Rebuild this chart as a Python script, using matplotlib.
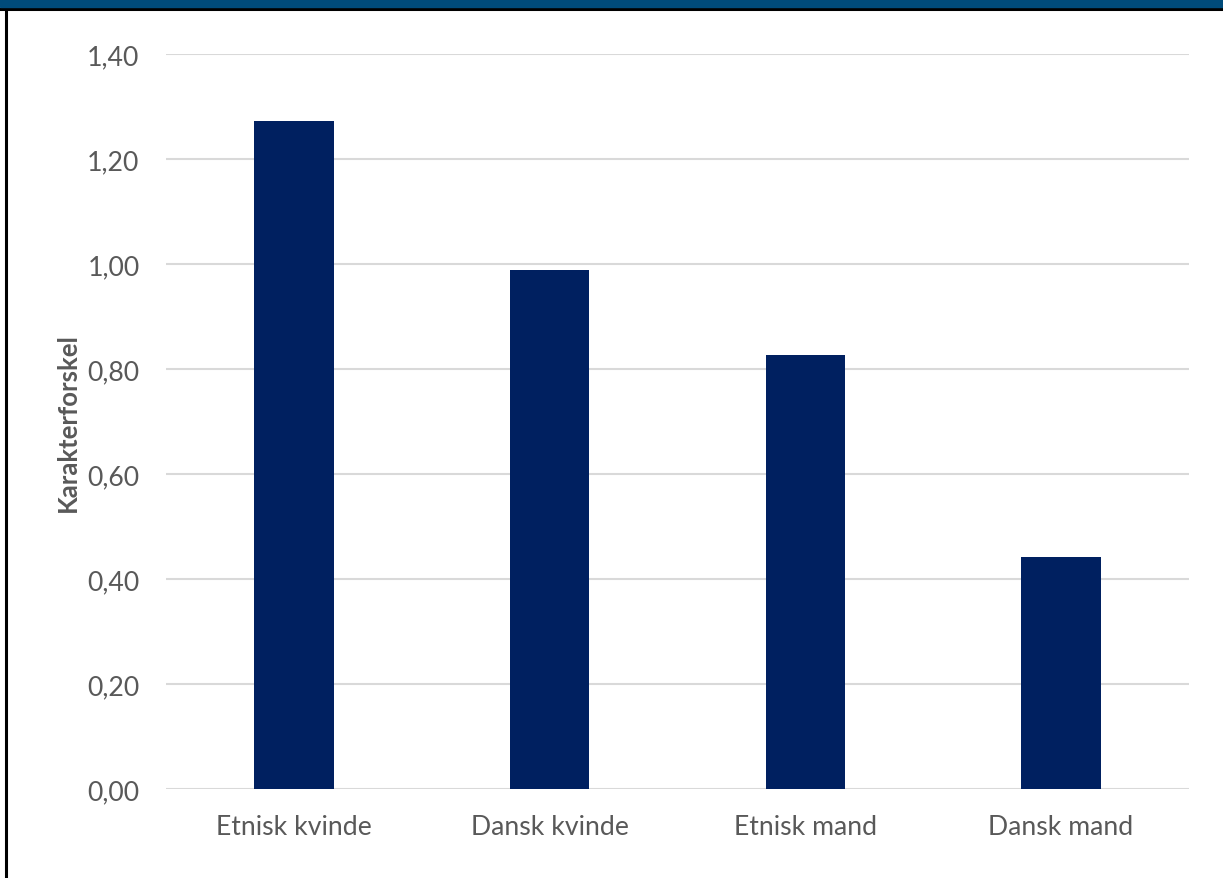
import matplotlib.pyplot as plt
from matplotlib.ticker import FuncFormatter
from matplotlib.patches import Rectangle
from matplotlib.lines import Line2D

plt.rcParams['font.family'] = ['Lato', 'DejaVu Sans']

categories = ['Etnisk kvinde', 'Dansk kvinde', 'Etnisk mand', 'Dansk mand']
values = [1.273, 0.989, 0.827, 0.442]
yticks = [0.0, 0.2, 0.4, 0.6, 0.8, 1.0, 1.2, 1.4]

grey = '#595959'
bar_col = '#002060'

fig = plt.figure(figsize=(12.23, 8.79), dpi=100)
ax = fig.add_axes([166 / 1223, 1 - 790 / 879, (1189 - 166) / 1223, 735 / 879])

ax.bar(range(len(categories)), values, width=0.31, color=bar_col, zorder=3)
ax.set_xlim(-0.5, len(categories) - 0.5)
ax.set_ylim(0, 1.4)
ax.set_yticks(yticks)
ax.yaxis.set_major_formatter(FuncFormatter(lambda v, p: f'{v:.2f}'.replace('.', ',')))
ax.set_xticks(range(len(categories)))
ax.set_xticklabels(categories)
ax.tick_params(axis='both', length=0, labelsize=19.2, labelcolor=grey)
ax.tick_params(axis='y', pad=19)
ax.tick_params(axis='x', pad=18)
ax.grid(axis='y', color='#d9d9d9', linewidth=1.5, zorder=0)
for s in ax.spines.values():
    s.set_visible(False)
ax.set_ylabel('Karakterforskel', fontsize=18.5, fontweight='bold', color=grey, labelpad=5)

# frame: blue band on top, black rules
fig.patches.append(Rectangle((0, 1 - 8 / 879), 1, 8 / 879, transform=fig.transFigure,
                             color='#004b7a', zorder=5))
fig.lines.append(Line2D([0, 1], [1 - 9.5 / 879] * 2, transform=fig.transFigure,
                        color='black', linewidth=2.2))
fig.lines.append(Line2D([6 / 1223] * 2, [0, 1 - 9 / 879], transform=fig.transFigure,
                        color='black', linewidth=2.2))

fig.savefig('out.png', dpi=100)
